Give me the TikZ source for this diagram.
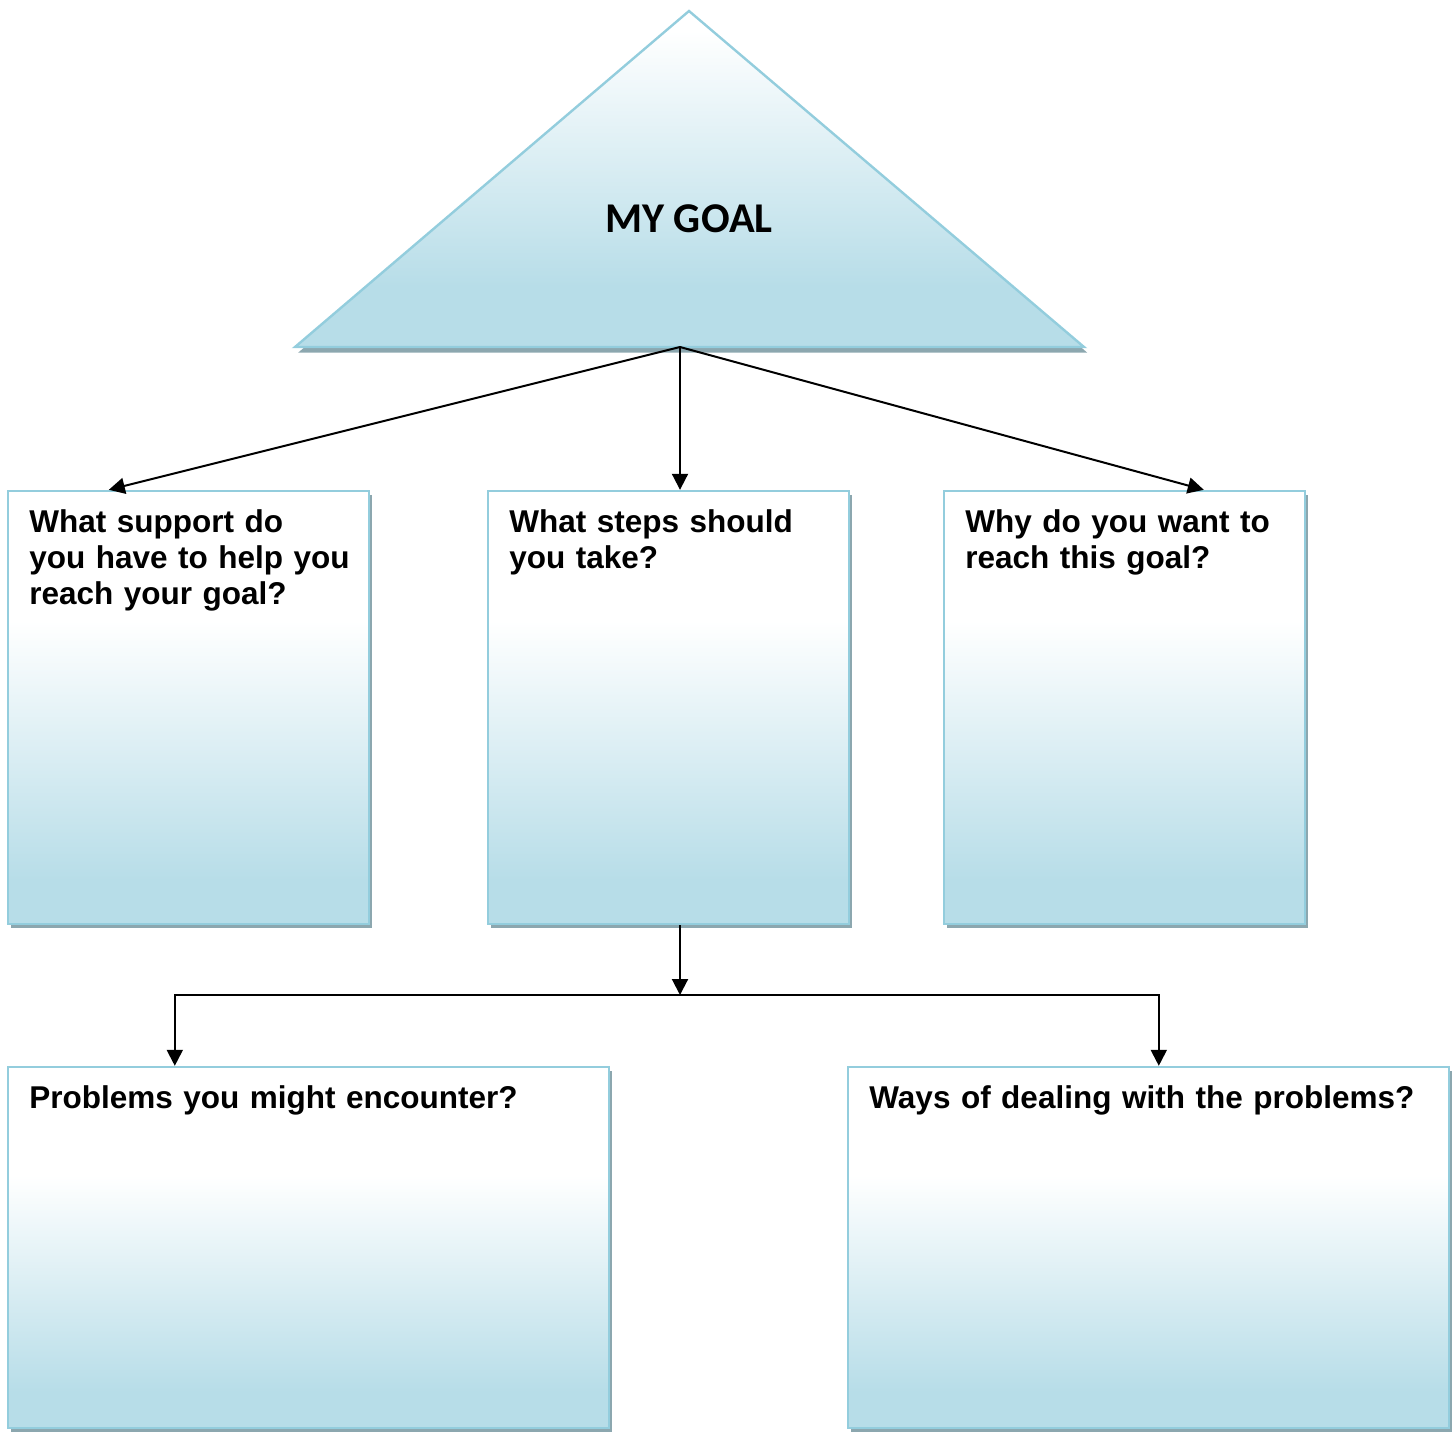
\documentclass[tikz,border=0pt]{standalone}
\usepackage{fontspec}
\setmainfont{Liberation Sans}
\newfontfamily\goalfont{Carlito}
\usetikzlibrary{arrows.meta,shadows,calc}
\definecolor{boxline}{HTML}{93CDDD}
\definecolor{boxblue}{HTML}{B7DDE8}
\definecolor{shadowc}{HTML}{8CA7AF}
\pgfdeclareverticalshading{boxshade}{100bp}{color(0bp)=(boxblue); color(30bp)=(boxblue); color(60bp)=(white); color(100bp)=(white)}
\pgfdeclareverticalshading{trishade}{100bp}{color(0bp)=(boxblue); color(34bp)=(boxblue); color(72bp)=(white); color(100bp)=(white)}
\tikzset{
  qbox/.style={draw=boxline, line width=1.2pt, shading=boxshade, rectangle, inner sep=0pt,
    drop shadow={shadow xshift=1.6pt, shadow yshift=-2pt, fill=shadowc, opacity=1}},
  qtext/.style={anchor=base west, inner sep=0pt, align=left, text width=200pt,
    font=\bfseries\fontsize{15.75}{18}\selectfont},
  arr/.style={line width=1pt, -{Triangle[length=8pt,width=8pt]}},
}
\begin{document}
\begin{tikzpicture}[x=0.5pt,y=-0.5pt]
\useasboundingbox (0,0) rectangle (1456,1432);
% triangle
\path[draw=boxline, line width=1.2pt, shading=trishade,
  drop shadow={shadow xshift=1.6pt, shadow yshift=-2.8pt, fill=shadowc, opacity=1}]
  (689,11) -- (1084,347) -- (295,347) -- cycle;
\node[anchor=base, inner sep=0pt, font=\goalfont\bfseries\fontsize{21.2}{25}\selectfont] (goal) at (689,232) {MY GOAL};
\coordinate (gb) at (680,347);
% boxes
\node[qbox, minimum width=180.5pt, minimum height=216.5pt] (b1) at (188.5,707.5) {};
\node[qbox, minimum width=180.5pt, minimum height=216.5pt] (b2) at (668.5,707.5) {};
\node[qbox, minimum width=180.5pt, minimum height=216.5pt] (b3) at (1124.5,707.5) {};
\node[qbox, minimum width=300.5pt, minimum height=180.5pt] (b4) at (308.5,1247.5) {};
\node[qbox, minimum width=300.5pt, minimum height=180.5pt] (b5) at (1148.5,1247.5) {};
% texts
\node[qtext] (t1) at (29,532) {What support do\\you have to help you\\reach your goal?};
\node[qtext] (t2) at (509,532) {What steps should\\you take?};
\node[qtext] (t3) at (965,532) {Why do you want to\\reach this goal?};
\node[qtext, text width=300pt] (t4) at (29,1108) {Problems you might encounter?};
\node[qtext, text width=300pt] (t5) at (869,1108) {Ways of dealing with the problems?};
% connectors
\draw[arr] (gb) -- ([xshift=51pt]b1.north west);
\draw[arr] (gb) -- (gb |- b2.north);
\draw[arr] (gb) -- ([xshift=130.5pt]b3.north west);
\coordinate (j) at (680,995);
\draw[arr] (gb |- b2.south) -- (j);
\draw[arr] (j) -| ([xshift=84pt]b4.north west);
\draw[arr] (j) -| ([xshift=156pt]b5.north west);
\end{tikzpicture}
\end{document}
